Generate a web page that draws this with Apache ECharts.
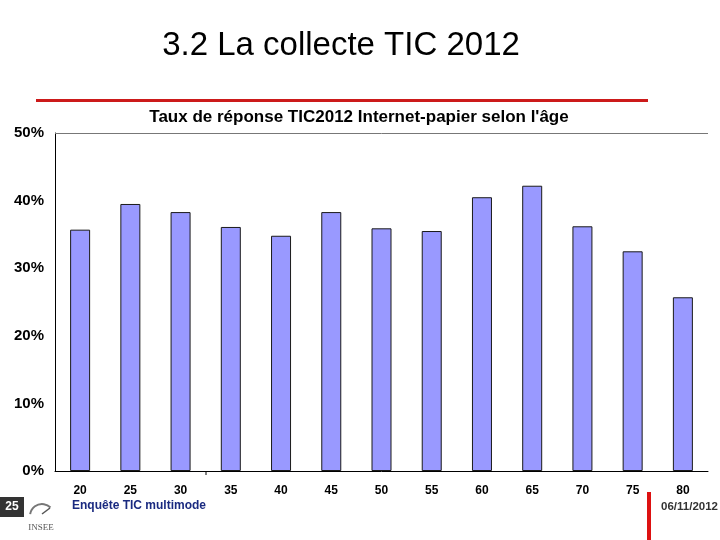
<!DOCTYPE html>
<html><head><meta charset="utf-8">
<script src="https://cdn.jsdelivr.net/npm/echarts@6/dist/echarts.min.js"></script>
<style>html,body{margin:0;padding:0;background:#fff}#c{width:720px;height:540px}</style>
</head><body><div id="c"></div>
<script>
const categories = ['20','25','30','35','40','45','50','55','60','65','70','75','80'];
const rates = [35.7, 39.5, 38.3, 36.1, 34.8, 38.3, 35.9, 35.5, 40.5, 42.2, 36.2, 32.5, 25.7];
const yTicks = [0, 10, 20, 30, 40, 50];

const chart = echarts.init(document.getElementById('c'));
chart.setOption({
  animation: false,
  backgroundColor: '#fff',
  title: [
    {text: '3.2 La collecte TIC 2012', left: 336, top: 24, textAlign: 'center',
     textStyle: {fontFamily: 'Liberation Sans, Arial', fontSize: 33, fontWeight: 'normal', color: '#000'}},
    {text: "Taux de réponse TIC2012 Internet-papier selon l'âge", left: 354, top: 104, textAlign: 'center',
     textStyle: {fontFamily: 'Liberation Sans, Arial', fontSize: 17, fontWeight: 'bold', color: '#000'}}
  ],
  grid: {left: 55, right: 12, top: 133, bottom: 69, containLabel: false},
  xAxis: {
    type: 'category', data: categories,
    axisLine: {lineStyle: {color: '#000', width: 1}},
    axisTick: {show: false},
    axisLabel: {margin: 14, fontFamily: 'Liberation Sans, Arial', fontSize: 12, fontWeight: 'bold', color: '#000'}
  },
  yAxis: {
    type: 'value', min: 0, max: 50, interval: 10,
    axisLine: {show: true, lineStyle: {color: '#000', width: 1}},
    axisTick: {show: false},
    splitLine: {show: false},
    axisLabel: {margin: 11, fontFamily: 'Liberation Sans, Arial', fontSize: 15, fontWeight: 'bold', color: '#000',
      formatter: v => yTicks.includes(v) ? v + '%' : ''}
  },
  series: [{
    type: 'bar', data: rates, barWidth: 20,
    itemStyle: {color: '#9999ff', borderColor: '#1a1a1a', borderWidth: 1},
    markLine: {silent: true, symbol: 'none', label: {show: false},
      lineStyle: {color: '#777', width: 1, type: 'solid'}, data: [{yAxis: 50}]}
  }],
  graphic: [
    {type: 'rect', shape: {x: 36, y: 99, width: 612, height: 3}, style: {fill: '#cc1a1a'}},
    {type: 'rect', shape: {x: 0, y: 497, width: 24, height: 20}, style: {fill: '#333'}},
    {type: 'text', x: 12, y: 507, style: {text: '25', fill: '#fff', font: 'bold 12px Liberation Sans, Arial', align: 'center', verticalAlign: 'middle'}},
    {type: 'arc', shape: {cx: 42, cy: 516, r: 12, startAngle: Math.PI * 1.05, endAngle: Math.PI * 1.75}, style: {stroke: '#777', lineWidth: 2, fill: null}},
    {type: 'line', shape: {x1: 42, y1: 514, x2: 50, y2: 508}, style: {stroke: '#555', lineWidth: 1.5}},
    {type: 'text', x: 41, y: 528, style: {text: 'INSEE', fill: '#555', font: '9px Liberation Serif, serif', align: 'center', verticalAlign: 'middle'}},
    {type: 'text', x: 72, y: 506, style: {text: 'Enquête TIC multimode', fill: '#1a2a80', font: 'bold 12px Liberation Sans, Arial', verticalAlign: 'middle'}},
    {type: 'text', x: 718, y: 507, style: {text: '06/11/2012', fill: '#333', font: 'bold 11.5px Liberation Sans, Arial', align: 'right', verticalAlign: 'middle'}},
    {type: 'rect', shape: {x: 647, y: 492, width: 4, height: 48}, style: {fill: '#dd1111'}},
    {type: 'line', shape: {x1: 206, y1: 471, x2: 206, y2: 475}, style: {stroke: '#000', lineWidth: 1}}
  ]
});
</script></body></html>
